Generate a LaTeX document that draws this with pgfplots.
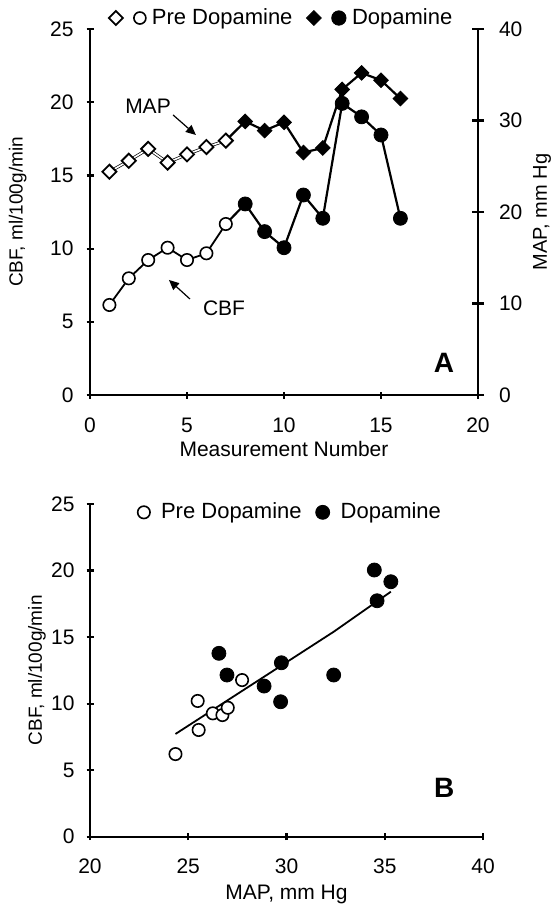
\documentclass[border=0pt]{standalone}
\usepackage{fontspec}
\setmainfont{Liberation Sans}
\usepackage{pgfplots}
\pgfplotsset{compat=1.18}
\usetikzlibrary{arrows.meta}

\pgfplotsset{
  panel/.style={
    scale only axis, clip=false,
    axis line style={line width=1.1pt},
    every tick/.style={line width=1.1pt,black},
    tick align=outside, major tick length=3.5pt,
    tick label style={font=\fontsize{10.5}{12}\selectfont},
    xticklabel style={yshift=-6pt},
    label style={font=\fontsize{10.5}{12}\selectfont},
    ylabel style={font=\fontsize{9.5}{11}\selectfont},
    /pgf/number format/assume math mode=true,
  },
  noarrows/.style={
    every outer x axis line/.append style={-},
    every outer y axis line/.append style={-},
    every inner x axis line/.append style={-},
    every inner y axis line/.append style={-},
  },
  openmark/.style={only marks, mark=*, mark size=3.1pt, line width=0.8pt,
    mark options={draw=black, fill=white}, forget plot},
  fullmark/.style={only marks, mark=*, mark size=3.5pt,
    mark options={draw=black, fill=black}, forget plot},
  diamo/.style={only marks, mark=square*, mark size=2.5pt, line width=0.9pt,
    mark options={rotate=45, draw=black, fill=white}, forget plot},
  diamf/.style={only marks, mark=square*, mark size=2.6pt,
    mark options={rotate=45, draw=black, fill=black}, forget plot},
}

\begin{document}
\begin{tikzpicture}
\useasboundingbox (0,0) rectangle (276.5pt,-454.5pt);

% panel A, CBF on the left axis
\begin{axis}[panel,
  at={(45pt,-197.5pt)}, anchor=south west,
  width=194pt, height=183pt,
  axis x line=bottom, axis y line=left, noarrows,
  xmin=0, xmax=20, ymin=0, ymax=25,
  xtick={0,5,...,20}, ytick={0,5,...,25},
  yticklabel style={xshift=-3pt},
  xlabel={Measurement Number}, ylabel={CBF, ml/100g/min},
  xlabel style={at={(axis description cs:0.5,-0.148)}, anchor=center},
  ylabel style={at={(axis description cs:-0.186,0.5)}, anchor=center},
  legend style={at={(axis description cs:0.032,1.03)}, anchor=west,
    draw=none, fill=none, legend columns=2,
    font=\fontsize{11}{13}\selectfont,
    /tikz/every odd column/.append style={column sep=1pt},
    /tikz/every even column/.append style={column sep=5pt}},
]
\addplot[line width=0.9pt, forget plot]
  coordinates {(1,6.15)(2,7.97)(3,9.22)(4,10.06)(5,9.22)(6,9.68)(7,11.68)};
\addplot[line width=1.1pt, forget plot]
  coordinates {(7,11.68)(8,13.05)(9,11.16)(10,10.06)(11,13.66)(12,12.07)(13,19.92)(14,19.0)(15,17.76)(16,12.07)};
\addplot[openmark]
  coordinates {(1,6.15)(2,7.97)(3,9.22)(4,10.06)(5,9.22)(6,9.68)(7,11.68)};
\addplot[fullmark]
  coordinates {(8,13.05)(9,11.16)(10,10.06)(11,13.66)(12,12.07)(13,19.92)(14,19.0)(15,17.76)(16,12.07)};

\addlegendimage{legend image code/.code={
  \draw[line width=0.9pt] plot[only marks, mark=square*, mark size=2.5pt,
    mark options={rotate=45, fill=white}] coordinates {(0pt,0pt)};
  \draw[line width=0.8pt] plot[only marks, mark=*, mark size=3pt,
    mark options={fill=white}] coordinates {(12pt,0pt)};}}
\addlegendentry{Pre Dopamine}
\addlegendimage{legend image code/.code={
  \draw plot[only marks, mark=square*, mark size=2.6pt,
    mark options={rotate=45, fill=black}] coordinates {(0pt,0pt)};
  \draw plot[only marks, mark=*, mark size=3.6pt,
    mark options={fill=black}] coordinates {(12.5pt,0pt)};}}
\addlegendentry{Dopamine}

\node[font=\fontsize{10.5}{12}\selectfont] at (axis cs:2.99,19.74) {MAP};
\draw[-{Triangle[length=5pt,width=4.5pt]}, line width=0.6pt]
  (axis cs:4.28,19.13) -- (axis cs:5.46,17.76);
\node[font=\fontsize{10.5}{12}\selectfont] at (axis cs:6.91,5.94) {CBF};
\draw[-{Triangle[length=5pt,width=4.5pt]}, line width=0.6pt]
  (axis cs:5.15,6.56) -- (axis cs:4.07,7.86);
\node[font=\bfseries\fontsize{14}{16}\selectfont] at (axis cs:18.25,2.19) {A};
\end{axis}

% panel A, MAP on the right axis
\begin{axis}[panel,
  at={(45pt,-197.5pt)}, anchor=south west,
  width=194pt, height=183pt,
  axis x line=none, axis y line=right, noarrows,
  xmin=0, xmax=20, ymin=0, ymax=40,
  ytick={0,10,...,40},
  tick align=center, major tick length=6pt,
  yticklabel style={xshift=4pt},
  ylabel={MAP, mm Hg},
  ylabel style={at={(axis description cs:1.165,0.5)}, anchor=center},
]
\addplot[line width=0.35pt, double=white, double distance=0.8pt]
  coordinates {(1,24.4)(2,25.6)(3,26.9)(4,25.4)(5,26.3)(6,27.1)(7,27.8)};
\addplot[line width=1.1pt]
  coordinates {(7,27.8)(8,29.9)(9,28.9)(10,29.8)(11,26.5)(12,27.0)(13,33.4)(14,35.2)(15,34.4)(16,32.4)};
\addplot[diamo]
  coordinates {(1,24.4)(2,25.6)(3,26.9)(4,25.4)(5,26.3)(6,27.1)(7,27.8)};
\addplot[diamf]
  coordinates {(8,29.9)(9,28.9)(10,29.8)(11,26.5)(12,27.0)(13,33.4)(14,35.2)(15,34.4)(16,32.4)};
\end{axis}

% panel B, CBF against MAP
\begin{axis}[panel,
  at={(45pt,-418.35pt)}, anchor=south west,
  width=196.5pt, height=166.35pt,
  axis x line=bottom, axis y line=left, noarrows,
  xmin=20, xmax=40, ymin=0, ymax=25,
  xtick={20,25,...,40}, ytick={0,5,...,25},
  yticklabel style={xshift=-2.5pt},
  xlabel={MAP, mm Hg}, ylabel={CBF, ml/100g/min},
  xlabel style={at={(axis description cs:0.5,-0.175)}, anchor=center},
  ylabel style={at={(axis description cs:-0.135,0.5)}, anchor=center},
  legend style={at={(axis description cs:0.105,0.975)}, anchor=west,
    draw=none, fill=none, legend columns=2,
    font=\fontsize{11}{13}\selectfont,
    /tikz/every odd column/.append style={column sep=3.5pt},
    /tikz/every even column/.append style={column sep=5pt}},
]
\addplot[line width=0.9pt, forget plot]
  coordinates {(24.35,7.72)(32.4,15.4)(35.31,18.41)};
\addplot[openmark, forget plot=false]
  coordinates {(24.35,6.21)(25.53,8.02)(26.25,9.27)(25.48,10.2)(26.74,9.14)(27.01,9.69)(27.74,11.77)};
\addlegendentry{Pre Dopamine}
\addplot[fullmark, forget plot=false]
  coordinates {(26.56,13.78)(26.97,12.15)(28.86,11.32)(29.74,13.07)(29.7,10.14)(32.4,12.15)(34.47,20.04)(35.31,19.16)(34.61,17.73)};
\addlegendentry{Dopamine}
\node[font=\bfseries\fontsize{14}{16}\selectfont] at (axis cs:38.03,3.66) {B};
\end{axis}
\end{tikzpicture}
\end{document}
